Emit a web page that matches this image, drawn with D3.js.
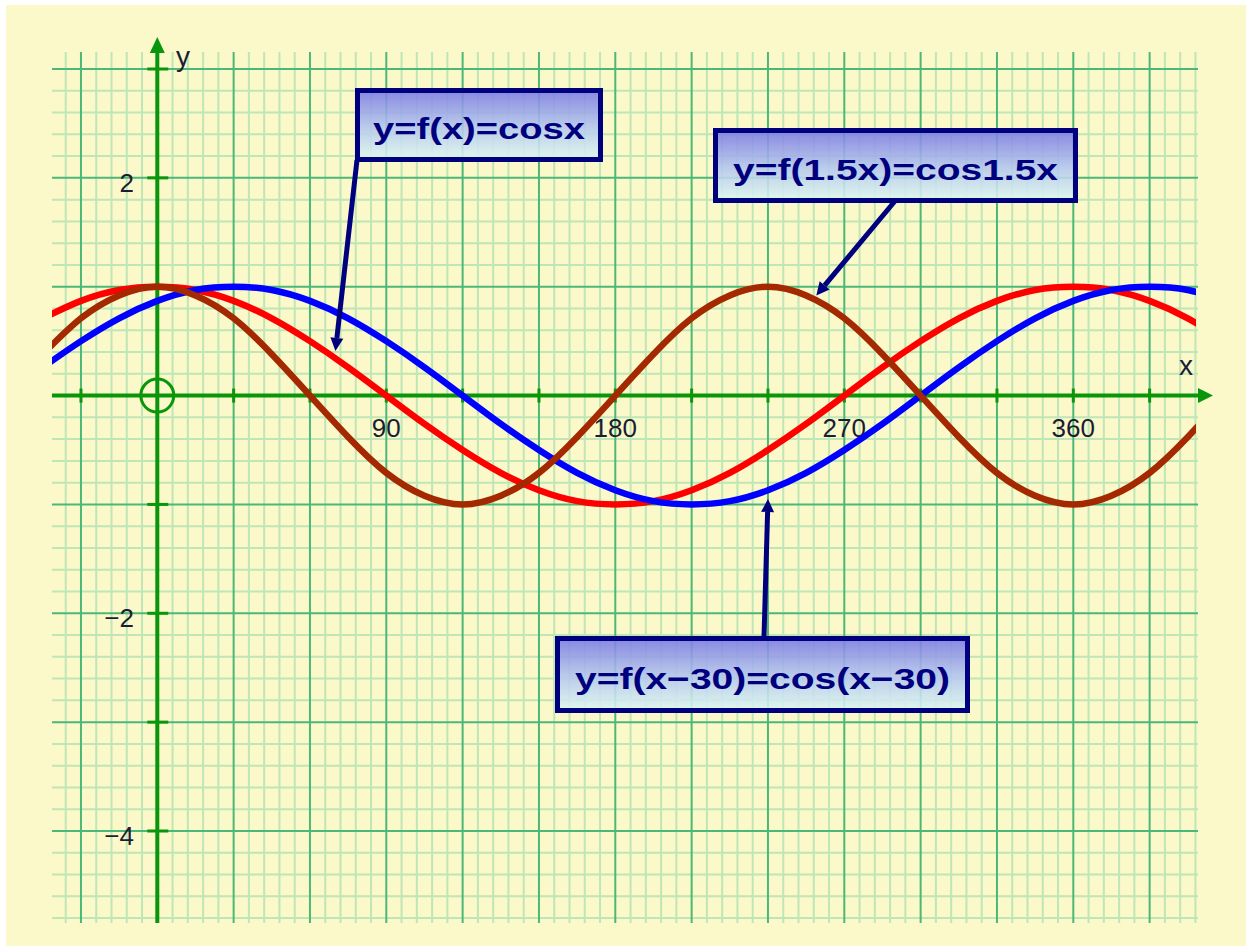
<!DOCTYPE html>
<html>
<head>
<meta charset="utf-8">
<script src="https://cdn.jsdelivr.net/npm/d3@7/dist/d3.min.js"></script>
<style>
  html, body { margin: 0; padding: 0; background: #ffffff; }
  svg { display: block; }
  text { font-family: "Liberation Sans", Arial, Helvetica, sans-serif; }
</style>
</head>
<body>
<svg id="chart" width="1251" height="951"></svg>
<script>
// Angles (degrees) where the three curves are sampled
const angles = [-45, -30, -15, 0, 15, 30, 45, 60, 75, 90, 105, 120, 135, 150, 165, 180,
                195, 210, 225, 240, 255, 270, 285, 300, 315, 330, 345, 360, 375, 390, 405, 420];

// y = cos x
const cosX = [0.71, 0.87, 0.97, 1, 0.97, 0.87, 0.71, 0.5, 0.26, 0, -0.26, -0.5, -0.71, -0.87, -0.97, -1,
              -0.97, -0.87, -0.71, -0.5, -0.26, 0, 0.26, 0.5, 0.71, 0.87, 0.97, 1, 0.97, 0.87, 0.71, 0.5];

// y = cos(x − 30)
const cosXMinus30 = [0.26, 0.5, 0.71, 0.87, 0.97, 1, 0.97, 0.87, 0.71, 0.5, 0.26, 0, -0.26, -0.5, -0.71, -0.87,
                     -0.97, -1, -0.97, -0.87, -0.71, -0.5, -0.26, 0, 0.26, 0.5, 0.71, 0.87, 0.97, 1, 0.97, 0.87];

// y = cos 1.5x
const cos15X = [0.38, 0.71, 0.92, 1, 0.92, 0.71, 0.38, 0, -0.38, -0.71, -0.92, -1, -0.92, -0.71, -0.38, 0,
                0.38, 0.71, 0.92, 1, 0.92, 0.71, 0.38, 0, -0.38, -0.71, -0.92, -1, -0.92, -0.71, -0.38, 0];

const seriesLabels = ["y=f(x)=cosx", "y=f(x\u221230)=cos(x\u221230)", "y=f(1.5x)=cos1.5x"];

const xTickLabels = [90, 180, 270, 360];
const yTickLabels = [2, -2, -4];

// ---------------------------------------------------------------
const svg = d3.select("#chart");
const W = 1251, H = 951;

const x = d3.scaleLinear().domain([0, 360]).range([157.3, 1073.3]);
const y = d3.scaleLinear().domain([-4, 3]).range([831, 69]);

const axisGreen = "#0a960a";
const majorGreen = "#4cb878";
const minorGreen = "#bfe6b6";
const navy = "#00007f";

// paper
svg.append("rect").attr("width", W).attr("height", H).attr("fill", "#ffffff");
svg.append("rect").attr("x", 6).attr("y", 5).attr("width", W - 11).attr("height", H - 10)
  .attr("fill", "#fbf8c9");

const defs = svg.append("defs");
const grad = defs.append("linearGradient").attr("id", "boxFill")
  .attr("x1", 0).attr("y1", 0).attr("x2", 0).attr("y2", 1);
grad.append("stop").attr("offset", "0%").attr("stop-color", "#7979e4");
grad.append("stop").attr("offset", "55%").attr("stop-color", "#b4c8f0");
grad.append("stop").attr("offset", "100%").attr("stop-color", "#dcf7f2");

defs.append("clipPath").attr("id", "plotClip")
  .append("rect").attr("x", 52).attr("y", 30).attr("width", 1196 - 52).attr("height", 900);

// grid
const gridLeft = 52, gridRight = 1198, gridTop = 52, gridBottom = 923;
const vLines = d3.range(-36, 409, 6);
const hLines = d3.range(-24, 16, 1).map(k => k / 5); // -4.8 .. 3.0 step 0.2
const isMajorX = d => d % 30 === 0;
const isMajorY = v => Math.abs(v - Math.round(v)) < 1e-9;

const grid = svg.append("g");
grid.selectAll("line.hmin").data(hLines.filter(v => !isMajorY(v))).join("line")
  .attr("x1", gridLeft).attr("x2", gridRight)
  .attr("y1", d => y(d)).attr("y2", d => y(d))
  .attr("stroke", minorGreen).attr("stroke-width", 2);
grid.selectAll("line.vmin").data(vLines.filter(d => !isMajorX(d))).join("line")
  .attr("x1", d => x(d)).attr("x2", d => x(d))
  .attr("y1", gridTop).attr("y2", gridBottom)
  .attr("stroke", minorGreen).attr("stroke-width", 2);
grid.selectAll("line.hmaj").data(hLines.filter(v => isMajorY(v))).join("line")
  .attr("x1", gridLeft).attr("x2", gridRight)
  .attr("y1", d => y(d)).attr("y2", d => y(d))
  .attr("stroke", majorGreen).attr("stroke-width", 2);
grid.selectAll("line.vmaj").data(vLines.filter(d => isMajorX(d))).join("line")
  .attr("x1", d => x(d)).attr("x2", d => x(d))
  .attr("y1", gridTop).attr("y2", gridBottom)
  .attr("stroke", majorGreen).attr("stroke-width", 2);

// axes
const x0 = x(0), y0 = y(0);
const axes = svg.append("g");
axes.append("line").attr("x1", gridLeft).attr("x2", 1200).attr("y1", y0).attr("y2", y0)
  .attr("stroke", axisGreen).attr("stroke-width", 4);
axes.append("path").attr("d", `M1213,${y0} L1198,${y0 - 7.5} L1198,${y0 + 7.5} Z`).attr("fill", axisGreen);
axes.append("line").attr("x1", x0).attr("x2", x0).attr("y1", gridBottom).attr("y2", 50)
  .attr("stroke", axisGreen).attr("stroke-width", 4);
axes.append("path").attr("d", `M${x0},37 L${x0 - 7.5},53 L${x0 + 7.5},53 Z`).attr("fill", axisGreen);

// tick marks
axes.selectAll("line.xt").data(d3.range(-30, 391, 30).filter(d => d !== 0)).join("line")
  .attr("x1", d => x(d)).attr("x2", d => x(d)).attr("y1", y0 - 7).attr("y2", y0 + 7)
  .attr("stroke", axisGreen).attr("stroke-width", 3);
axes.selectAll("line.yt").data(d3.range(-4, 4, 1).filter(d => d !== 0)).join("line")
  .attr("x1", x0 - 10).attr("x2", x0 + 11).attr("y1", d => y(d)).attr("y2", d => y(d))
  .attr("stroke", axisGreen).attr("stroke-width", 3);

// origin marker
axes.append("circle").attr("cx", x0).attr("cy", y0).attr("r", 16.5)
  .attr("fill", "none").attr("stroke", axisGreen).attr("stroke-width", 3);

// tick labels
const labelColor = "#1c1c34";
svg.append("g").selectAll("text").data(xTickLabels).join("text")
  .attr("x", d => x(d)).attr("y", y0 + 41)
  .attr("text-anchor", "middle").attr("font-size", 26).attr("fill", labelColor)
  .text(d => d);
svg.append("g").selectAll("text").data(yTickLabels).join("text")
  .attr("x", 134).attr("y", d => y(d) + 14)
  .attr("text-anchor", "end").attr("font-size", 26).attr("fill", labelColor)
  .text(d => d < 0 ? "\u2212" + Math.abs(d) : d);

svg.append("text").attr("x", 176).attr("y", 66).attr("font-size", 28).attr("fill", labelColor).text("y");
svg.append("text").attr("x", 1179).attr("y", 375).attr("font-size", 28).attr("fill", labelColor).text("x");

// curves
const curveData = [
  { values: cosX, color: "#ff0000" },
  { values: cosXMinus30, color: "#0000ff" },
  { values: cos15X, color: "#a42800" }
];
const lineGen = d3.line().x(d => x(d[0])).y(d => y(d[1])).curve(d3.curveNatural);
svg.append("g").attr("clip-path", "url(#plotClip)")
  .selectAll("path").data(curveData).join("path")
  .attr("d", s => lineGen(angles.map((a, i) => [a, s.values[i]])))
  .attr("fill", "none").attr("stroke", s => s.color).attr("stroke-width", 6.5)
  .attr("stroke-linecap", "butt");

// callouts: label box + arrow pointing at its curve
const callouts = [
  { label: seriesLabels[0], box: [355, 88, 603, 162], textW: 212, tail: [357, 160], tip: [x(70), y(0.41)] },
  { label: seriesLabels[2], box: [713, 128, 1078, 203], textW: 325, tail: [895, 201], tip: [x(259), y(0.92)] },
  { label: seriesLabels[1], box: [555, 636, 970, 713], textW: 375, tail: [764, 637], tip: [x(240), y(-0.95)] }
];

const ann = svg.append("g");
callouts.forEach(c => {
  const [tx, ty] = c.tail, [px, py] = c.tip;
  const ang = Math.atan2(py - ty, px - tx);
  const headL = 13, headW = 6.5;
  const bx = px - headL * Math.cos(ang), by = py - headL * Math.sin(ang);
  ann.append("line").attr("x1", tx).attr("y1", ty).attr("x2", bx).attr("y2", by)
    .attr("stroke", navy).attr("stroke-width", 5);
  ann.append("path")
    .attr("d", `M${px},${py} L${bx + headW * Math.sin(ang)},${by - headW * Math.cos(ang)} ` +
               `L${bx - headW * Math.sin(ang)},${by + headW * Math.cos(ang)} Z`)
    .attr("fill", navy);
});
callouts.forEach(c => {
  const [l, t, r, b] = c.box;
  ann.append("rect").attr("x", l + 2.5).attr("y", t + 2.5)
    .attr("width", r - l - 5).attr("height", b - t - 5)
    .attr("fill", "url(#boxFill)").attr("fill-opacity", 0.88)
    .attr("stroke", navy).attr("stroke-width", 5);
  ann.append("text").attr("x", (l + r) / 2).attr("y", (t + b) / 2 + 14)
    .attr("text-anchor", "middle").attr("font-size", 30).attr("font-weight", "bold")
    .attr("fill", navy)
    .attr("textLength", c.textW).attr("lengthAdjust", "spacingAndGlyphs")
    .text(c.label);
});
</script>
</body>
</html>
